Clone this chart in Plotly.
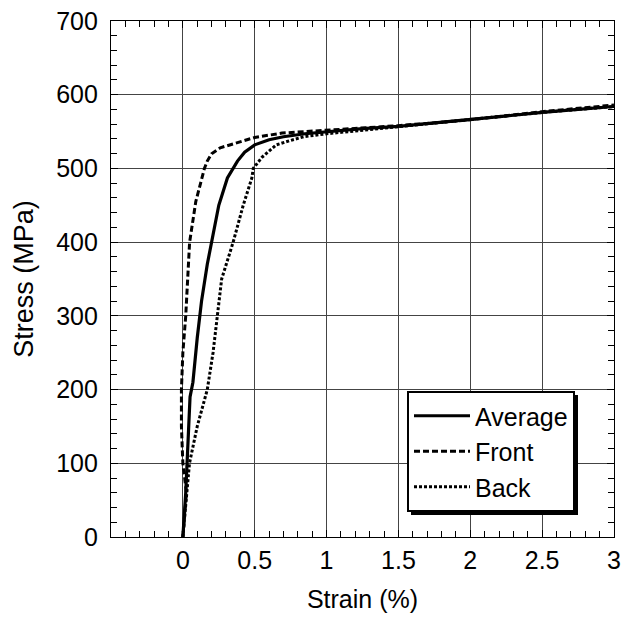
import plotly.graph_objects as go

# Data
avg_strain = [0.0, 0.02, 0.05, 0.07, 0.10, 0.13, 0.17, 0.20, 0.25, 0.31, 0.35, 0.38, 0.43, 0.50, 0.60, 0.70, 0.85, 1.00, 1.25, 1.50, 1.75, 2.00, 2.25, 2.50, 2.75, 3.00]
avg_stress = [0, 60, 190, 210, 270, 320, 370, 400, 450, 487, 500, 510, 522, 532, 539, 543, 547, 550, 554, 557, 562, 566, 571, 576, 580, 584]

front_strain = [0.0, 0.025, 0.0, -0.01, -0.01, 0.0, 0.02, 0.047, 0.09, 0.15, 0.17, 0.20, 0.26, 0.36, 0.50, 0.69, 0.85, 1.00, 1.50, 2.00, 2.50, 3.00]
front_stress = [0, 60, 100, 150, 200, 250, 300, 400, 455, 500, 510, 520, 528, 534, 542, 548, 550, 551, 558, 566, 577, 586]

back_strain = [0.0, 0.025, 0.046, 0.10, 0.17, 0.21, 0.24, 0.27, 0.35, 0.42, 0.48, 0.49, 0.55, 0.60, 0.65, 0.75, 0.84, 1.00, 1.50, 2.00, 2.50, 3.00]
back_stress = [0, 60, 100, 150, 200, 250, 300, 350, 400, 450, 487, 500, 515, 524, 532, 538, 543, 547, 557, 566, 576, 584]

x_ticks = [0, 0.5, 1, 1.5, 2, 2.5, 3]
x_tick_labels = ["0", "0.5", "1", "1.5", "2", "2.5", "3"]
y_ticks = [0, 100, 200, 300, 400, 500, 600, 700]

FONT = "Liberation Sans, Arial, sans-serif"
FS = 25

# The page body adds an 8px margin; the figure is sized so the plot lands
# where it is in the reference (plot area 111..614 x, 21..537 y in the window).
OFF = 8
PL, PR, PT, PB = 111, 614, 21, 537
W, H = 630 - OFF, 617 - OFF


def px(xw):
    return (xw - PL) / (PR - PL)


def py(yw):
    return (PB - yw) / (PB - PT)


fig = go.Figure()
fig.add_trace(go.Scatter(x=avg_strain, y=avg_stress, mode="lines", name="Average",
                         line=dict(color="black", width=3.2, dash="solid")))
fig.add_trace(go.Scatter(x=front_strain, y=front_stress, mode="lines", name="Front",
                         line=dict(color="black", width=3, dash="6px,3px")))
fig.add_trace(go.Scatter(x=back_strain, y=back_stress, mode="lines", name="Back",
                         line=dict(color="black", width=3, dash="3px,2px")))

axis_common = dict(
    showline=True, linecolor="black", linewidth=1.2, mirror="ticks",
    ticks="inside", ticklen=7, tickcolor="black", tickwidth=1,
    showgrid=True, gridcolor="#444444", gridwidth=1,
    zeroline=False, automargin=False, ticklabeloverflow="allow",
    tickfont=dict(family=FONT, size=FS, color="black"),
)

fig.update_xaxes(
    range=[-0.5, 3], tickvals=x_ticks, ticktext=x_tick_labels,
    title=dict(text="Strain (%)", font=dict(family=FONT, size=25, color="black"), standoff=17),
    minor=dict(dtick=0.1, tick0=0, ticks="inside", ticklen=6, tickwidth=1, tickcolor="black", showgrid=False),
    ticklabelstandoff=1,
    **axis_common,
)
fig.update_yaxes(
    range=[0, 700], tickvals=y_ticks,
    title=dict(text="Stress (MPa)", font=dict(family=FONT, size=27, color="black"), standoff=14),
    minor=dict(dtick=20, tick0=0, ticks="inside", ticklen=6, tickwidth=1, tickcolor="black", showgrid=False),
    ticklabelstandoff=7,
    **axis_common,
)

# legend drop shadow (window coords converted to paper coords)
LX0, LY0, LW, LH = 407, 391, 167, 120
SH = 4
fig.add_shape(type="rect", xref="paper", yref="paper",
              x0=px(LX0 + SH), x1=px(LX0 + LW + SH),
              y0=py(LY0 + LH + SH), y1=py(LY0 + SH),
              fillcolor="black", line=dict(width=0), layer="above")

fig.update_layout(
    width=W, height=H,
    margin=dict(l=PL - OFF, r=W - (PR - OFF), t=PT - OFF, b=H - (PB - OFF)),
    paper_bgcolor="white", plot_bgcolor="white",
    font=dict(family=FONT, size=FS, color="black"),
    showlegend=True,
    legend=dict(
        x=px(LX0), y=py(LY0), xanchor="left", yanchor="top",
        bgcolor="white", bordercolor="black", borderwidth=2,
        font=dict(family=FONT, size=FS, color="black"),
        itemwidth=56, tracegroupgap=0,
    ),
)

fig.write_html("out.html")
